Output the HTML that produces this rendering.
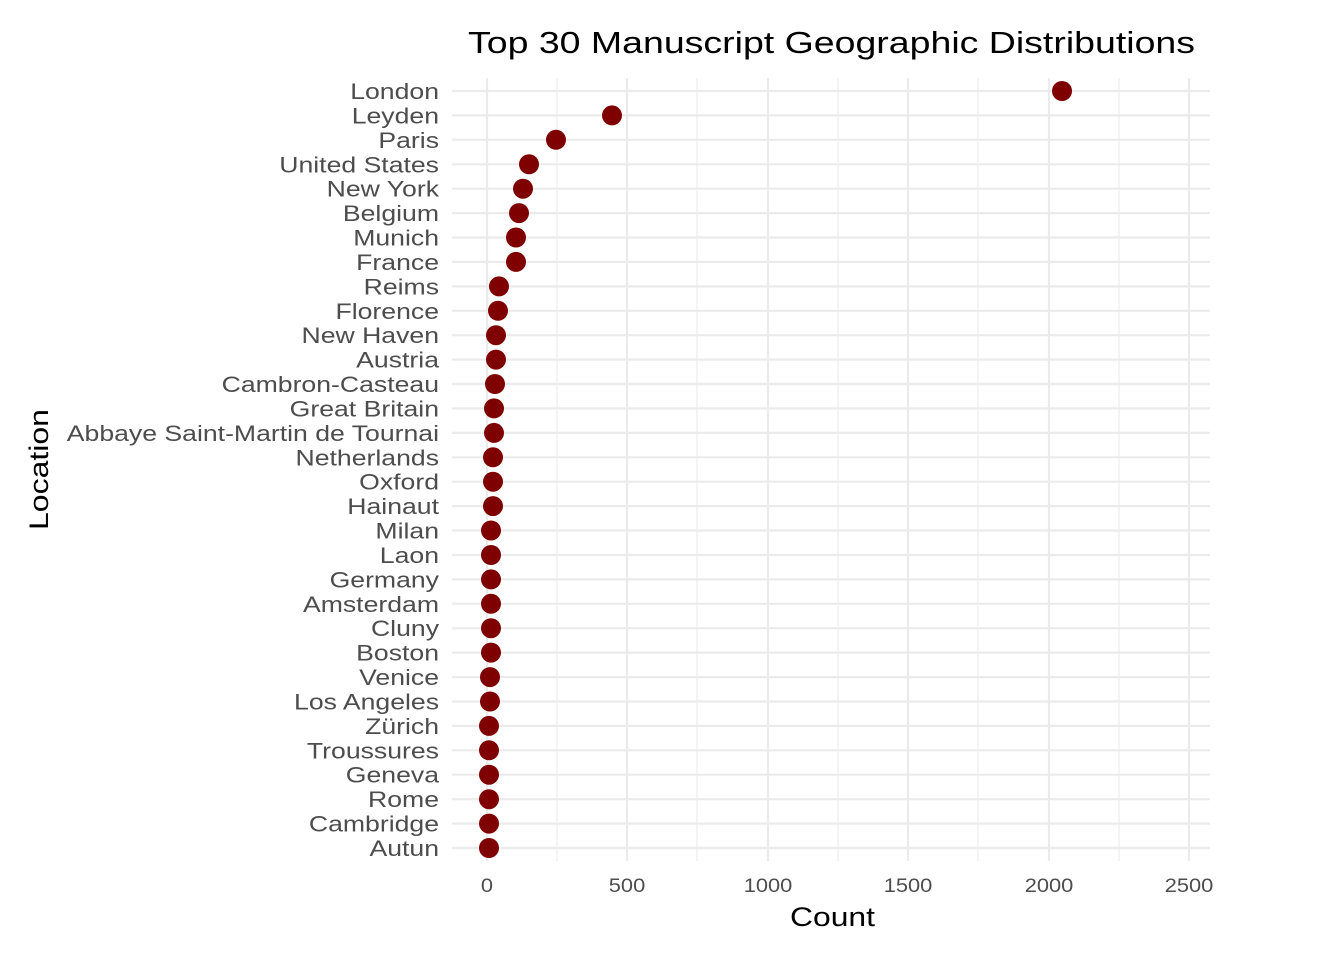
<!DOCTYPE html>
<html><head><style>body{margin:0;background:#fff}svg{display:block}</style></head><body>
<svg width="1344" height="960" xmlns="http://www.w3.org/2000/svg" font-family="Liberation Sans, sans-serif">
<rect width="1344" height="960" fill="#fff"/>
<g stroke="#ebebeb" stroke-width="1.1">
<line x1="557" y1="78" x2="557" y2="861"/><line x1="697" y1="78" x2="697" y2="861"/><line x1="838" y1="78" x2="838" y2="861"/><line x1="978" y1="78" x2="978" y2="861"/><line x1="1119" y1="78" x2="1119" y2="861"/>
</g>
<g stroke="#ebebeb" stroke-width="2.2">
<line x1="487" y1="78" x2="487" y2="861"/><line x1="627" y1="78" x2="627" y2="861"/><line x1="768" y1="78" x2="768" y2="861"/><line x1="908" y1="78" x2="908" y2="861"/><line x1="1049" y1="78" x2="1049" y2="861"/><line x1="1189" y1="78" x2="1189" y2="861"/>
<line x1="452" y1="91" x2="1210" y2="91"/><line x1="452" y1="115.4" x2="1210" y2="115.4"/><line x1="452" y1="139.8" x2="1210" y2="139.8"/><line x1="452" y1="164.3" x2="1210" y2="164.3"/><line x1="452" y1="188.7" x2="1210" y2="188.7"/><line x1="452" y1="213.1" x2="1210" y2="213.1"/><line x1="452" y1="237.5" x2="1210" y2="237.5"/><line x1="452" y1="261.9" x2="1210" y2="261.9"/><line x1="452" y1="286.4" x2="1210" y2="286.4"/><line x1="452" y1="310.8" x2="1210" y2="310.8"/><line x1="452" y1="335.2" x2="1210" y2="335.2"/><line x1="452" y1="359.6" x2="1210" y2="359.6"/><line x1="452" y1="384" x2="1210" y2="384"/><line x1="452" y1="408.4" x2="1210" y2="408.4"/><line x1="452" y1="432.9" x2="1210" y2="432.9"/><line x1="452" y1="457.3" x2="1210" y2="457.3"/><line x1="452" y1="481.7" x2="1210" y2="481.7"/><line x1="452" y1="506.1" x2="1210" y2="506.1"/><line x1="452" y1="530.5" x2="1210" y2="530.5"/><line x1="452" y1="555" x2="1210" y2="555"/><line x1="452" y1="579.4" x2="1210" y2="579.4"/><line x1="452" y1="603.8" x2="1210" y2="603.8"/><line x1="452" y1="628.2" x2="1210" y2="628.2"/><line x1="452" y1="652.6" x2="1210" y2="652.6"/><line x1="452" y1="677.1" x2="1210" y2="677.1"/><line x1="452" y1="701.5" x2="1210" y2="701.5"/><line x1="452" y1="725.9" x2="1210" y2="725.9"/><line x1="452" y1="750.3" x2="1210" y2="750.3"/><line x1="452" y1="774.7" x2="1210" y2="774.7"/><line x1="452" y1="799.2" x2="1210" y2="799.2"/><line x1="452" y1="823.6" x2="1210" y2="823.6"/><line x1="452" y1="848" x2="1210" y2="848"/>
</g>
<g fill="#7f0000">
<circle cx="1062" cy="91" r="10"/><circle cx="612" cy="115.4" r="10"/><circle cx="556" cy="139.8" r="10"/><circle cx="529" cy="164.3" r="10"/><circle cx="523" cy="188.7" r="10"/><circle cx="519" cy="213.1" r="10"/><circle cx="516" cy="237.5" r="10"/><circle cx="516" cy="261.9" r="10"/><circle cx="499" cy="286.4" r="10"/><circle cx="498" cy="310.8" r="10"/><circle cx="496" cy="335.2" r="10"/><circle cx="496" cy="359.6" r="10"/><circle cx="495" cy="384" r="10"/><circle cx="494" cy="408.4" r="10"/><circle cx="494" cy="432.9" r="10"/><circle cx="493" cy="457.3" r="10"/><circle cx="493" cy="481.7" r="10"/><circle cx="493" cy="506.1" r="10"/><circle cx="491" cy="530.5" r="10"/><circle cx="491" cy="555" r="10"/><circle cx="491" cy="579.4" r="10"/><circle cx="491" cy="603.8" r="10"/><circle cx="491" cy="628.2" r="10"/><circle cx="491" cy="652.6" r="10"/><circle cx="490" cy="677.1" r="10"/><circle cx="490" cy="701.5" r="10"/><circle cx="489" cy="725.9" r="10"/><circle cx="489" cy="750.3" r="10"/><circle cx="489" cy="774.7" r="10"/><circle cx="489" cy="799.2" r="10"/><circle cx="489" cy="823.6" r="10"/><circle cx="489" cy="848" r="10"/>
</g>
<g font-size="22" fill="#4d4d4d" text-anchor="end" transform="translate(439,0) scale(1.21,1)">
<text x="0" y="99">London</text><text x="0" y="123.4">Leyden</text><text x="0" y="147.8">Paris</text><text x="0" y="172.3">United States</text><text x="0" y="196.7">New York</text><text x="0" y="221.1">Belgium</text><text x="0" y="245.5">Munich</text><text x="0" y="269.9">France</text><text x="0" y="294.4">Reims</text><text x="0" y="318.8">Florence</text><text x="0" y="343.2">New Haven</text><text x="0" y="367.6">Austria</text><text x="0" y="392">Cambron-Casteau</text><text x="0" y="416.4">Great Britain</text><text x="0" y="440.9">Abbaye Saint-Martin de Tournai</text><text x="0" y="465.3">Netherlands</text><text x="0" y="489.7">Oxford</text><text x="0" y="514.1">Hainaut</text><text x="0" y="538.5">Milan</text><text x="0" y="563">Laon</text><text x="0" y="587.4">Germany</text><text x="0" y="611.8">Amsterdam</text><text x="0" y="636.2">Cluny</text><text x="0" y="660.6">Boston</text><text x="0" y="685.1">Venice</text><text x="0" y="709.5">Los Angeles</text><text x="0" y="733.9">Zürich</text><text x="0" y="758.3">Troussures</text><text x="0" y="782.7">Geneva</text><text x="0" y="807.2">Rome</text><text x="0" y="831.6">Cambridge</text><text x="0" y="856">Autun</text>
</g>
<g font-size="19" fill="#4d4d4d" text-anchor="middle">
<text transform="translate(487,892) scale(1.15,1)">0</text><text transform="translate(627,892) scale(1.15,1)">500</text><text transform="translate(768,892) scale(1.15,1)">1000</text><text transform="translate(908,892) scale(1.15,1)">1500</text><text transform="translate(1049,892) scale(1.15,1)">2000</text><text transform="translate(1189,892) scale(1.15,1)">2500</text>
</g>
<text x="790" y="926" font-size="27" textLength="85" lengthAdjust="spacingAndGlyphs" fill="#000">Count</text>
<text transform="translate(48,530) rotate(-90)" x="0" y="0" font-size="27" textLength="121" lengthAdjust="spacingAndGlyphs" fill="#000">Location</text>
<text x="468" y="53" font-size="31" textLength="727" lengthAdjust="spacingAndGlyphs" fill="#000">Top 30 Manuscript Geographic Distributions</text>
</svg>
</body></html>
